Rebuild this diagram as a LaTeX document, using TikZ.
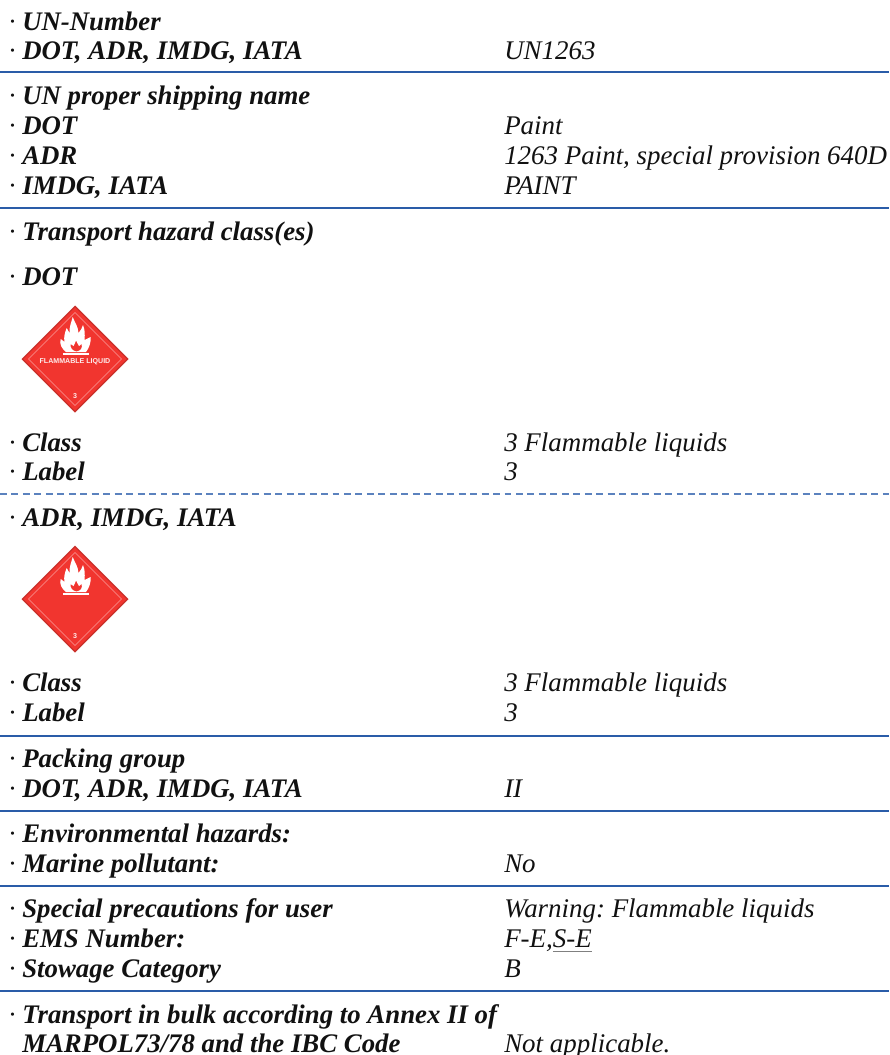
\documentclass[tikz,border=0pt]{standalone}
\usepackage{fontspec}
\setmainfont{Liberation Serif}
\newfontfamily\labelsans{Liberation Sans}
\definecolor{rulecol}{HTML}{2A5CA8}
\definecolor{dashcol}{HTML}{5B82BE}
\definecolor{textcol}{HTML}{111111}
\definecolor{placardred}{HTML}{F1352F}
\definecolor{placardedge}{HTML}{C9302B}
\tikzset{
  x=0.75pt,y=-0.75pt,
  keytext/.style={anchor=base west,inner sep=0pt,text=textcol,font=\fontsize{20.1}{22}\selectfont\frenchspacing\bfseries\itshape},
  valtext/.style={anchor=base west,inner sep=0pt,text=textcol,font=\fontsize{20.2}{22}\selectfont\frenchspacing\itshape},
  placardtext/.style={inner sep=0pt,text=white,opacity=.9,font=\labelsans\bfseries\fontsize{5.3}{6}\selectfont},
  sep/.style={draw=rulecol,line width=1.5pt},
  sepdash/.style={draw=dashcol,line width=0.8pt,dash pattern=on 5.2pt off 3.4pt},
  placard/.pic={
    \fill[placardedge] (0,-53.5)--(53.5,0)--(0,53.5)--(-53.5,0)--cycle;
    \fill[placardred] (0,-51.5)--(51.5,0)--(0,51.5)--(-51.5,0)--cycle;
    \draw[white,opacity=.5,line width=0.5pt] (0,-46.5)--(46.5,0)--(0,46.5)--(-46.5,0)--cycle;
    \fill[white,even odd rule] (-2.3,-42) .. controls (0,-36) and (3,-33) .. (3.5,-26)
      .. controls (5.5,-28) and (7,-31) .. (8,-34) .. controls (10,-29) and (10,-25) .. (9.5,-19)
      .. controls (11.5,-20) and (14,-21) .. (15.7,-22) .. controls (16,-16) and (14,-11) .. (11,-7)
      -- (-9,-7) .. controls (-13,-10) and (-16,-15) .. (-14.3,-20)
      .. controls (-13,-19) and (-11.5,-18) .. (-10.5,-17) .. controls (-11.5,-22) and (-10,-27) .. (-8.3,-31)
      .. controls (-7,-29) and (-6.5,-27.5) .. (-5.5,-26) .. controls (-6,-32) and (-3.5,-37) .. (-2.3,-42) -- cycle
      (1.5,-7.5) .. controls (5.5,-8) and (8,-11) .. (6.5,-15) .. controls (5.5,-14) and (4.5,-13) .. (4,-13)
      .. controls (3,-14.5) and (2,-16.5) .. (1,-18.5) .. controls (0,-16) and (-0.5,-14.5) .. (-1.5,-13)
      .. controls (-2.5,-13.5) and (-3,-14) .. (-4.5,-15) .. controls (-5,-11) and (-2.5,-8) .. (1.5,-7.5) -- cycle;
    \fill[white] (-12.5,-5.8) rectangle (13.5,-4.2);
  },
}
\newcommand{\dotmark}{\llap{\mdseries · }}
\newcommand{\rw}[4]{\node[keytext] (#1) at (22,#2) {\dotmark #3};\node[valtext] (#1v) at (504,#2) {#4};}
\newcommand{\rk}[3]{\node[keytext] (#1) at (22,#2) {\dotmark #3};}
\newcommand{\hsep}[3][sep]{\coordinate (#2a) at (0,#3);\coordinate (#2b) at (889,#3);\draw[#1] (#2a)--(#2b);}
\newsavebox\ulbox
\newcommand{\greyul}[1]{\sbox\ulbox{#1}\usebox\ulbox\llap{\textcolor{gray}{\rule[-3.6pt]{\wd\ulbox}{0.9pt}}}}
\begin{document}
\begin{tikzpicture}
\useasboundingbox (0,0) rectangle (889,1055);
\fill[white] (0,0) rectangle (889,1055);
\rk{a}{30.5}{UN-Number}
\rw{b}{59.5}{DOT, ADR, IMDG, IATA}{UN1263}
\hsep{l1}{72.5}
\rk{c}{105}{UN proper shipping name}
\rw{d}{134.5}{DOT}{Paint}
\rw{e}{165}{ADR}{1263 Paint, special provision 640D}
\rw{f}{195}{IMDG, IATA}{PAINT}
\hsep{l2}{208}
\rk{g}{240.5}{Transport hazard class(es)}
\rk{h}{285.5}{DOT}
\pic at (75,359) {placard};
\node[placardtext] (p1t) at (75,362) {FLAMMABLE LIQUID};
\node[placardtext] (p1n) at (75,396) {3};
\rw{i}{451}{Class}{3 Flammable liquids}
\rw{j}{480.5}{Label}{3}
\hsep[sepdash]{l3}{494}
\rk{k}{526}{ADR, IMDG, IATA}
\pic at (75,599) {placard};
\node[placardtext] (p2n) at (75,636) {3};
\rw{m}{691.5}{Class}{3 Flammable liquids}
\rw{n}{721.5}{Label}{3}
\hsep{l4}{735.5}
\rk{o}{767}{Packing group}
\rw{q}{797}{DOT, ADR, IMDG, IATA}{II}
\hsep{l5}{811}
\rk{r}{842}{Environmental hazards:}
\rw{s}{872}{Marine pollutant:}{No}
\hsep{l6}{886}
\rw{t}{917}{Special precautions for user}{Warning: Flammable liquids}
\rw{u}{947.5}{EMS Number:}{F-E,\greyul{S-E}}
\rw{w}{977.5}{Stowage Category}{B}
\hsep{l7}{991}
\rk{y}{1023}{Transport in bulk according to Annex II of}
\node[keytext] (z) at (22,1052.5) {MARPOL73/78 and the IBC Code};
\node[valtext] (zv) at (504,1052.5) {Not applicable.};
\end{tikzpicture}
\end{document}
